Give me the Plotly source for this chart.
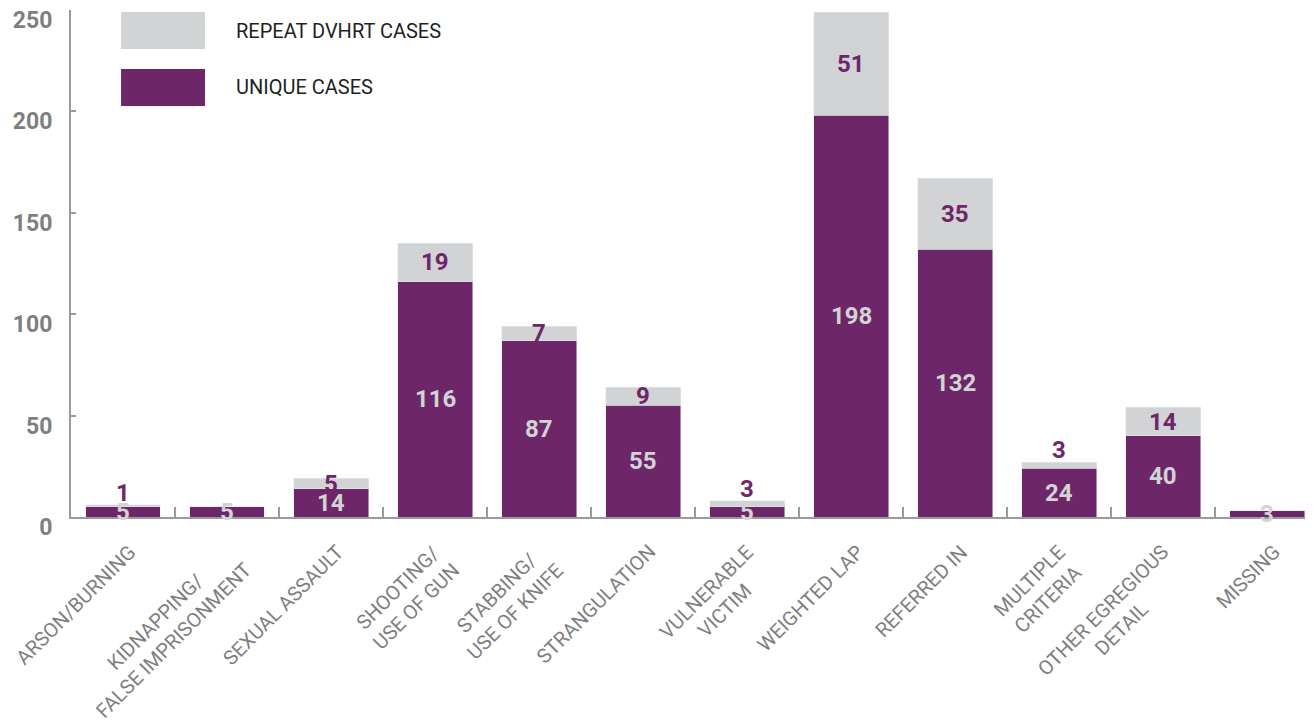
import plotly.graph_objects as go

categories = ["ARSON/BURNING", "KIDNAPPING/<br>FALSE IMPRISONMENT", "SEXUAL ASSAULT",
              "SHOOTING/<br>USE OF GUN", "STABBING/<br>USE OF KNIFE", "STRANGULATION",
              "VULNERABLE<br>VICTIM", "WEIGHTED LAP", "REFERRED IN", "MULTIPLE<br>CRITERIA",
              "OTHER EGREGIOUS<br>DETAIL", "MISSING"]
unique_cases = [5, 5, 14, 116, 87, 55, 5, 198, 132, 24, 40, 3]
repeat_cases = [1, 0, 5, 19, 7, 9, 3, 51, 35, 3, 14, 0]
y_ticks = [0, 50, 100, 150, 200, 250]

PURPLE = "#6d2769"
LIGHT = "#d1d3d4"
AXIS = "#9a9a9a"
TICKTXT = "#7f7f7f"
FONT = "Roboto, Liberation Sans, sans-serif"

fig = go.Figure()
fig.add_trace(go.Bar(x=categories, y=unique_cases, marker_color=PURPLE, width=0.72,
                     name="UNIQUE CASES", showlegend=False, hoverinfo="skip"))
fig.add_trace(go.Bar(x=categories, y=repeat_cases, marker_color=LIGHT, width=0.72,
                     name="REPEAT DVHRT CASES", showlegend=False, hoverinfo="skip"))

annotations = []
VAL_SIZE = 24
for cat, u, r in zip(categories, unique_cases, repeat_cases):
    annotations.append(dict(x=cat, y=u / 2, text=str(u), showarrow=False,
                            font=dict(family=FONT, size=VAL_SIZE, color=LIGHT, weight="bold"),
                            xanchor="center", yanchor="middle"))
    if r > 0:
        if r <= 3:
            annotations.append(dict(x=cat, y=u + r, text=str(r), showarrow=False,
                                    font=dict(family=FONT, size=VAL_SIZE, color=PURPLE, weight="bold"),
                                    xanchor="center", yanchor="bottom", yshift=-4))
        else:
            annotations.append(dict(x=cat, y=u + r / 2, text=str(r), showarrow=False,
                                    font=dict(family=FONT, size=VAL_SIZE, color=PURPLE, weight="bold"),
                                    xanchor="center", yanchor="middle"))

# category labels (rotated, centre-aligned lines)
for cat in categories:
    nlines = cat.count("<br>") + 1
    annotations.append(dict(x=cat, y=0, text=cat, showarrow=False, textangle=-45,
                            align="center", xanchor="right", yanchor="top",
                            xshift=20 + 12 * (nlines - 1), yshift=-20,
                            font=dict(family=FONT, size=20, color=TICKTXT)))

# legend drawn manually
legend_items = [("REPEAT DVHRT CASES", LIGHT, 0.923, 0.996),
                ("UNIQUE CASES", PURPLE, 0.8107, 0.8836)]
shapes = []
for label, col, y0, y1 in legend_items:
    shapes.append(dict(type="rect", xref="paper", yref="paper", x0=0.0403, x1=0.1079,
                       y0=y0, y1=y1, fillcolor=col, line=dict(width=0)))
    annotations.append(dict(xref="paper", yref="paper", x=0.131, y=(y0 + y1) / 2,
                            text=label, showarrow=False, xanchor="left", yanchor="middle",
                            font=dict(family=FONT, size=20, color="#231f20")))

fig.update_layout(
    barmode="stack",
    width=1305, height=715,
    margin=dict(l=63, r=0, t=2, b=206, autoexpand=False),
    plot_bgcolor="white", paper_bgcolor="white",
    shapes=shapes, annotations=annotations,
    font=dict(family=FONT),
)
fig.update_xaxes(
    type="category", range=[-0.5, 11.44], showgrid=False, zeroline=False,
    showline=True, linecolor=AXIS, linewidth=2, automargin=False,
    ticks="inside", ticklen=10, tickwidth=2, tickcolor=AXIS,
    tickson="boundaries", showticklabels=False,
)
fig.update_yaxes(
    range=[0, 250], tickvals=y_ticks, showgrid=False, zeroline=False,
    showline=True, linecolor=AXIS, linewidth=2, automargin=False,
    ticks="inside", ticklen=5, tickwidth=2, tickcolor=AXIS,
    tickfont=dict(family=FONT, size=23, color=TICKTXT, weight="bold"),
    ticklabelstandoff=12, ticklabelshift=10, ticklabeloverflow="allow",
)

fig.write_html("out.html")
